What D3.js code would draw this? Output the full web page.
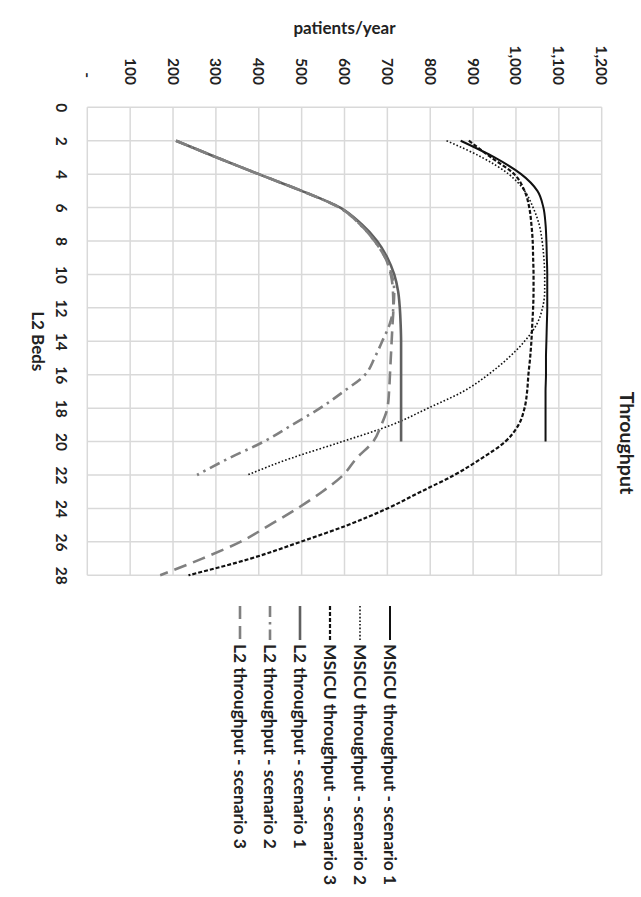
<!DOCTYPE html>
<html><head><meta charset="utf-8">
<script src="https://cdn.jsdelivr.net/npm/d3@7/dist/d3.min.js"></script>
<style>
html,body{margin:0;padding:0;background:#fff;}
svg{display:block;font-family:Lato,"Open Sans",sans-serif;font-weight:bold;}
</style></head><body>
<svg id="chart" width="641" height="897"></svg>
<script>
// ---- data ----
const bedTicks = [0,2,4,6,8,10,12,14,16,18,20,22,24,26,28];
const valueTicks = [0,100,200,300,400,500,600,700,800,900,1000,1100,1200];
const valueTickLabels = ["-","100","200","300","400","500","600","700","800","900","1,000","1,100","1,200"];

const bedsTo20 = [2,3,4,5,6,7,8,9,10,11,12,13,14,15,16,17,18,19,20];
const bedsTo22 = [2,3,4,5,6,7,8,9,10,11,12,13,14,15,16,17,18,19,20,21,22];
const bedsTo28 = [2,3,4,5,6,7,8,9,10,11,12,13,14,15,16,17,18,19,20,21,22,23,24,25,26,27,28];

const msicuScenario1 = [871,950,1012,1050,1064,1069,1071,1072,1073,1073,1073,1072,1071,1070,1070,1069,1069,1069,1069];
const msicuScenario2 = [838,921,983,1020,1040,1054,1061,1065,1067,1067,1062,1048,1020,982,935,877,795,710,595,475,373];
const msicuScenario3 = [890,942,996,1020,1031,1036,1039,1040,1041,1041,1040,1038,1036,1033,1029,1026,1020,1006,975,920,856,778,700,607,497,381,236];
const l2Scenario1 = [207,302,400,500,590,640,676,700,716,725,729,731,732,732,732,732,732,732,732];
const l2Scenario2 = [207,302,400,500,588,636,670,695,710,716,714,705,688,670,648,598,543,478,412,330,256];
const l2Scenario3 = [207,302,400,500,588,636,670,695,708,713,714,712,710,708,706,704,700,686,667,628,597,548,490,425,357,268,170];

const seriesNames = ["MSICU throughput - scenario 1","MSICU throughput - scenario 2","MSICU throughput - scenario 3",
  "L2 throughput - scenario 1","L2 throughput - scenario 2","L2 throughput - scenario 3"];

// ---- styles ----
const styles = [
  {color:"#111", width:2, dash:null},
  {color:"#111", width:1.6, dash:"1.6,2"},
  {color:"#111", width:2.2, dash:"4,2"},
  {color:"#606060", width:2.6, dash:null},
  {color:"#808080", width:2.6, dash:"11,5,2.5,5"},
  {color:"#808080", width:2.6, dash:"13,7"}
];
const seriesData = [
  [bedsTo20, msicuScenario1],[bedsTo22, msicuScenario2],[bedsTo28, msicuScenario3],
  [bedsTo20, l2Scenario1],[bedsTo22, l2Scenario2],[bedsTo28, l2Scenario3]
];

// ---- layout in the unrotated frame (width 897, height 641) ----
const svg = d3.select("#chart");
const g = svg.append("g").attr("transform","translate(641,0) rotate(90)");
const pLeft = 107.3, pRight = 575.3, pTop = 39.3, pBottom = 553.7;

const x = d3.scaleLinear().domain([0,28]).range([pLeft,pRight]);
const y = d3.scaleLinear().domain([0,1200]).range([pBottom,pTop]);

// grid
const grid = g.append("g");
grid.selectAll(".vg").data(bedTicks).join("line")
  .attr("x1",d=>x(d)).attr("x2",d=>x(d)).attr("y1",pTop).attr("y2",pBottom)
  .attr("stroke","#d9d9d9").attr("stroke-width",1.5);
grid.selectAll(".hg").data(valueTicks).join("line")
  .attr("x1",pLeft).attr("x2",pRight).attr("y1",d=>y(d)).attr("y2",d=>y(d))
  .attr("stroke","#d9d9d9").attr("stroke-width",1.5);

// axes
const xAxis = d3.axisBottom(x).tickValues(bedTicks).tickSize(0).tickPadding(20);
const xg = g.append("g").attr("transform",`translate(0,${pBottom})`).call(xAxis);
xg.select(".domain").remove();
xg.selectAll("text").attr("font-size",15.5).attr("font-family","Lato").attr("font-weight","bold").attr("fill","#222");

const yAxis = d3.axisLeft(y).tickValues(valueTicks).tickSize(0).tickPadding(pLeft-85)
  .tickFormat((d,i)=>valueTickLabels[i]);
const yg = g.append("g").attr("transform",`translate(${pLeft},0)`).call(yAxis);
yg.select(".domain").remove();
yg.selectAll("text").attr("font-size",15.5).attr("font-family","Lato").attr("font-weight","bold").attr("fill","#222")
  .attr("dx",(d,i)=>i===0?-7:0);

// axis titles
g.append("text").attr("x",(pLeft+pRight)/2).attr("y",609).attr("text-anchor","middle")
  .attr("font-size",17).attr("fill","#222").text("L2 Beds");
g.append("text").attr("transform",`translate(34,${(pTop+pBottom)/2}) rotate(-90)`).attr("text-anchor","middle")
  .attr("font-size",17).attr("fill","#222").text("patients/year");
g.append("text").attr("x",443).attr("y",21).attr("text-anchor","middle")
  .attr("font-size",19.5).attr("fill","#222").text("Throughput");

// lines
const line = d3.line().curve(d3.curveMonotoneX).x(d=>x(d[0])).y(d=>y(d[1]));
seriesData.forEach((s,i)=>{
  const pts = s[0].map((b,j)=>[b,s[1][j]]);
  g.append("path").datum(pts).attr("d",line).attr("fill","none")
    .attr("stroke",styles[i].color).attr("stroke-width",styles[i].width)
    .attr("stroke-dasharray",styles[i].dash);
});

// legend
const legend = g.append("g");
seriesNames.forEach((n,i)=>{
  const v = 251 + i*30;
  legend.append("line").attr("x1",606).attr("x2",640).attr("y1",v).attr("y2",v)
    .attr("stroke",styles[i].color).attr("stroke-width",styles[i].width)
    .attr("stroke-dasharray",styles[i].dash);
  legend.append("text").attr("x",644).attr("y",v).attr("dy","0.35em")
    .attr("font-size",17.4).attr("fill","#222").text(n);
});
</script>
</body></html>
